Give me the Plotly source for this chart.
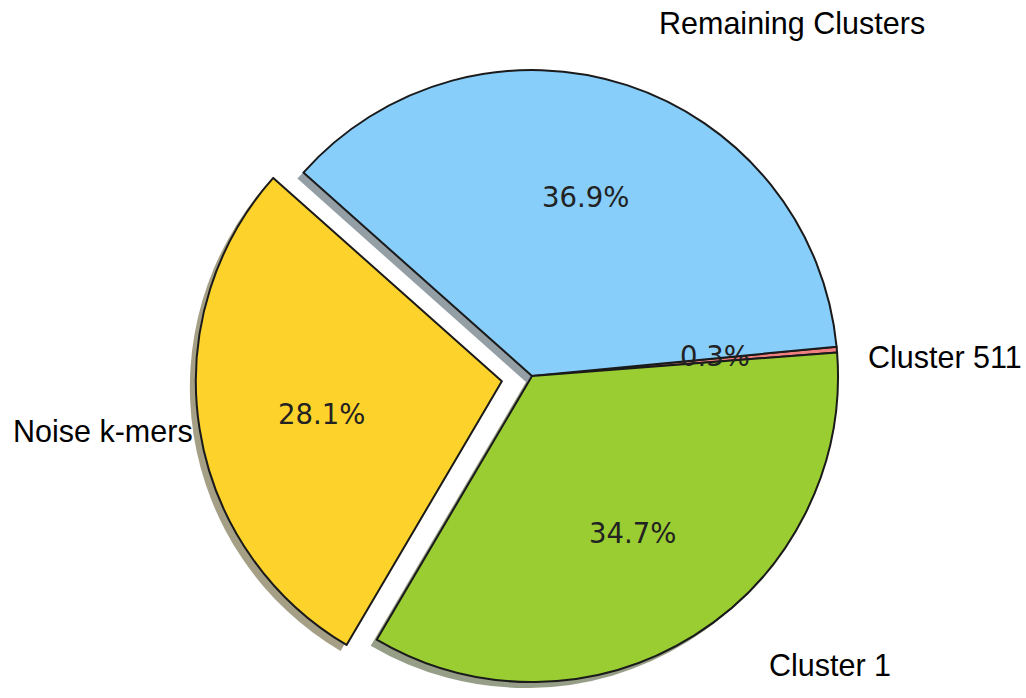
import math
import plotly.graph_objects as go

# pie data (matplotlib-style pie with shadow and one exploded slice)
labels = ["Cluster 511", "Remaining Clusters", "Noise k-mers", "Cluster 1"]
shares = [0.3, 36.9, 28.1, 34.7]
colors = ["#F08080", "#87CEFA", "#FDD32B", "#9ACD32"]
explode = [0, 0, 0.1, 0]
start_angle = 5.5  # degrees, counterclockwise from 3 o'clock

# canvas / pie geometry in pixels
W, H = 1026, 698
CX, CY, R = 532, 376, 306
SHADOW = 6
# where the outside labels sit (pixels) and how they are anchored
label_pos = [(866, 357, "left"), (657, 23, "left"), (195, 431, "right"), (767, 665, "left")]


def domain(cx, cy):
    return dict(x=[(cx - R) / W, (cx + R) / W], y=[1 - (cy + R) / H, 1 - (cy - R) / H])


def shade(hexcol):
    r, g, b = (int(hexcol[i:i + 2], 16) for i in (1, 3, 5))
    return f"rgba({r * 0.3:.0f},{g * 0.3:.0f},{b * 0.3:.0f},0.5)"


total = sum(shares)
mids, offsets = [], []
a = start_angle
for v, e in zip(shares, explode):
    span = 360 * v / total
    mid = math.radians(a + span / 2)
    mids.append(mid)
    offsets.append((e * R * math.cos(mid), -e * R * math.sin(mid)))
    a += span

clear = "rgba(0,0,0,0)"


def slice_trace(i, fill, line_w, dx, dy):
    n = len(shares)
    return go.Pie(
        labels=labels, values=shares, sort=False,
        direction="counterclockwise", rotation=90 - start_angle,
        marker=dict(
            colors=[fill if j == i else clear for j in range(n)],
            line=dict(color=["#1a1a1a" if j == i else clear for j in range(n)],
                      width=[line_w if j == i else 0 for j in range(n)]),
        ),
        textinfo="none", hoverinfo="skip" if line_w == 0 else "label+percent",
        showlegend=False,
        domain=domain(CX + offsets[i][0] + dx, CY + offsets[i][1] + dy),
    )


fig = go.Figure()
for i in range(len(shares)):
    fig.add_trace(slice_trace(i, shade(colors[i]), 0, -SHADOW, SHADOW))
for i in range(len(shares)):
    fig.add_trace(slice_trace(i, colors[i], 2, 0, 0))

annotations = []
for i, v in enumerate(shares):
    px = CX + offsets[i][0] + 0.6 * R * math.cos(mids[i])
    py = CY + offsets[i][1] - 0.6 * R * 1.02 * math.sin(mids[i])
    annotations.append(dict(
        x=px / W, y=1 - py / H, xref="paper", yref="paper",
        text=f"{v:.1f}%", showarrow=False, xanchor="center", yanchor="middle",
        font=dict(family="DejaVu Sans", size=27.5, color="#222222"),
    ))
for lab, (lx, ly, anchor) in zip(labels, label_pos):
    annotations.append(dict(
        x=lx / W, y=1 - ly / H, xref="paper", yref="paper",
        text=lab, showarrow=False, xanchor=anchor, yanchor="middle",
        font=dict(family="Liberation Sans, Arial", size=30.5, color="#000000"),
    ))

fig.update_layout(
    width=W, height=H,
    margin=dict(l=0, r=0, t=0, b=0),
    paper_bgcolor="white", plot_bgcolor="white",
    annotations=annotations,
)

fig.write_html("out.html", config={"displayModeBar": False},
               post_script="document.body.style.margin='0';")
